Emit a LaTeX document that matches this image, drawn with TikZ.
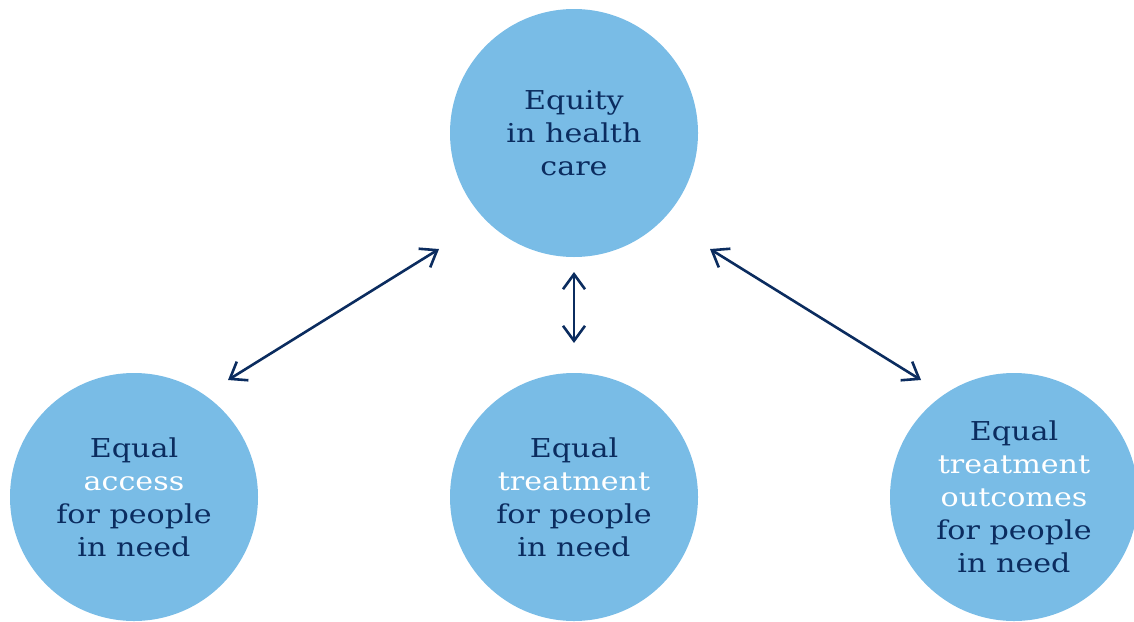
\documentclass[tikz,border=0pt]{standalone}
\usepackage{fontspec}
\setmainfont[FakeStretch=1.16]{DejaVu Serif}
\usetikzlibrary{arrows.meta}
\definecolor{circblue}{HTML}{79BCE6}
\definecolor{navy}{HTML}{0B2C5F}
\begin{document}
\begin{tikzpicture}[
    x=0.5pt, y=-0.5pt,
    goal/.style={circle, fill=circblue, minimum size=124pt, inner sep=0pt,
        align=center, text=navy, font=\fontsize{13}{16.5}\selectfont},
    link/.style={draw=navy, line width=1.3pt,
        {Straight Barb[length=7.5pt, width=11pt]}-{Straight Barb[length=7.5pt, width=11pt]}}
]
    \useasboundingbox (0,0) rectangle (1134,621);

    % Circles
    \node[goal] (equity) at (574,133) {Equity\\in health\\care};
    \node[goal] (access) at (134,497) {Equal\\\textcolor{white}{access}\\for people\\in need};
    \node[goal] (treat) at (574,497) {Equal\\\textcolor{white}{treatment}\\for people\\in need};
    \node[goal] (outcome) at (1014,497) {Equal\\\textcolor{white}{treatment}\\\textcolor{white}{outcomes}\\for people\\in need};

    % Arrow ends
    \coordinate (accessend) at (228,380);
    \coordinate (equityleft) at (439,249);
    \coordinate (equitymid) at (574,272);
    \coordinate (treatend) at (574,343);
    \coordinate (equityright) at (710,249);
    \coordinate (outcomeend) at (921,380);

    % Arrows
    \draw[link] (accessend) -- (equityleft);
    \draw[link] (equitymid) -- (treatend);
    \draw[link] (equityright) -- (outcomeend);
\end{tikzpicture}
\end{document}
